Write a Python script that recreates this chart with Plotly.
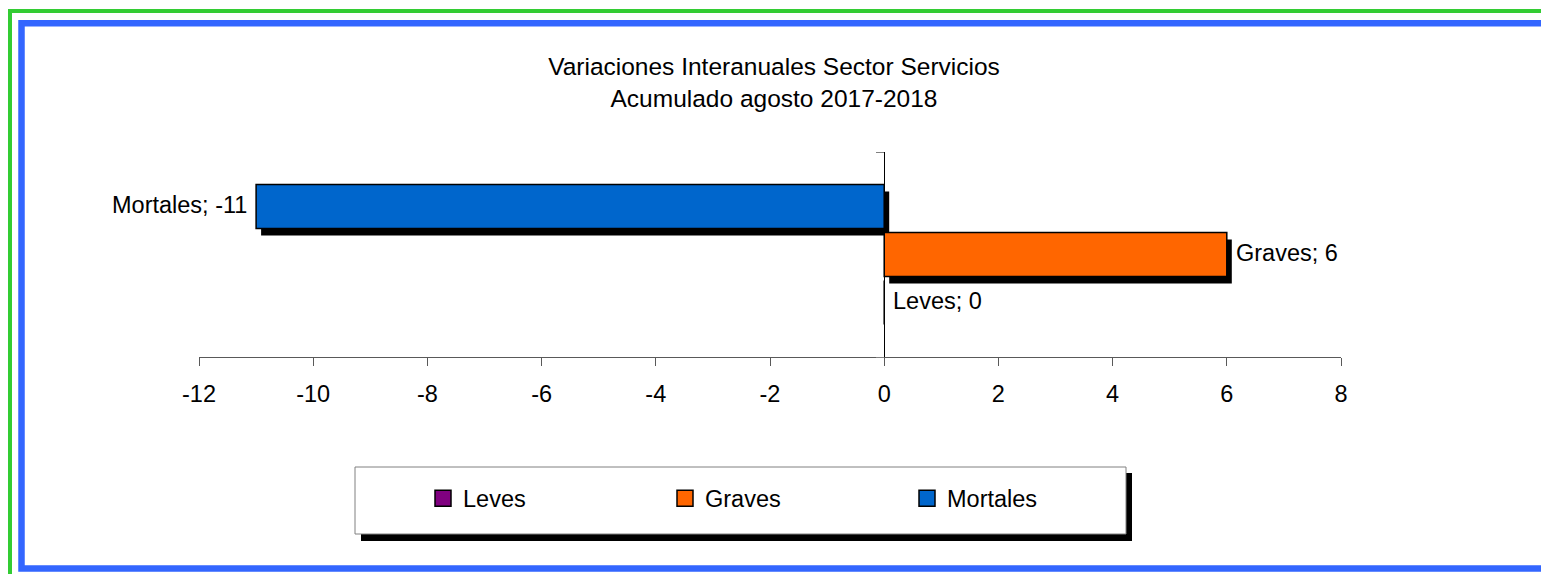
import plotly.graph_objects as go

# ---- data ----
series_names = ["Leves", "Graves", "Mortales"]
series_values = [0, 6, -11]
series_colors = ["#800080", "#FF6600", "#0066CC"]
x_ticks = [-12, -10, -8, -6, -4, -2, 0, 2, 4, 6, 8]
title_lines = ["Variaciones Interanuales Sector Servicios", "Acumulado agosto 2017-2018"]

# ---- layout geometry (pixels, in screenshot coordinates; page body has 8px margin) ----
OFF = 8
W, H = 1549, 574
PLOT_L, PLOT_R, PLOT_T, PLOT_B = 199, 1341, 152, 357
L = PLOT_L - OFF
R = W - (PLOT_R - OFF)
T = PLOT_T - OFF
B = H - (PLOT_B - OFF)
PW, PH = W - L - R, H - T - B
XMIN, XMAX = -12, 8
YMIN, YMAX = -0.5, 0.5

def px_x(px):
    return (px - OFF - L) / PW

def px_y(py):
    return (H - B - (py - OFF)) / PH

FONT = "Liberation Sans, Arial, sans-serif"
FS = 23.5

spacing = 48 / PH          # y-units between bars
bar_w = 44 / PH            # bar thickness in y-units
dx = 5 * (XMAX - XMIN) / PW  # shadow shift in x-units
dy = 7 / PH                  # shadow shift in y-units

fig = go.Figure()

# shadows
for i, (n, v) in enumerate(zip(series_names, series_values)):
    c = (i - 1) * spacing
    fig.add_trace(go.Bar(
        x=[v], y=[0], base=[dx], orientation="h",
        width=bar_w, offset=c - bar_w / 2 - dy,
        marker=dict(color="black", line=dict(width=0)),
        showlegend=False, hoverinfo="skip"))

# bars
for i, (n, v, col) in enumerate(zip(series_names, series_values, series_colors)):
    c = (i - 1) * spacing
    fig.add_trace(go.Bar(
        x=[v], y=[0], orientation="h", name=n,
        width=bar_w, offset=c - bar_w / 2,
        marker=dict(color=col, line=dict(color="black", width=1.5)),
        showlegend=False))
    fig.add_annotation(
        x=v, y=c, xref="x", yref="y",
        text=f"{n}; {v}", showarrow=False,
        xanchor="right" if v < 0 else "left",
        xshift=-7 if v < 0 else 7,
        yshift=2,
        font=dict(family=FONT, size=FS, color="black"))

# legend entries
for n, col in zip(series_names, series_colors):
    fig.add_trace(go.Scatter(
        x=[None], y=[None], mode="markers", name=n,
        marker=dict(symbol="square", size=16, color=col,
                    line=dict(color="black", width=1.5))))

shapes = []
# outer frames
shapes.append(dict(type="rect", xref="paper", yref="paper",
                   x0=px_x(10), x1=px_x(1620), y0=px_y(11), y1=px_y(640),
                   line=dict(color="#33CC33", width=4), fillcolor="rgba(0,0,0,0)"))
shapes.append(dict(type="rect", xref="paper", yref="paper",
                   x0=px_x(21.5), x1=px_x(1620), y0=px_y(23.3), y1=px_y(568.5),
                   line=dict(color="#3366FF", width=6.5), fillcolor="rgba(0,0,0,0)"))
# legend box shadow and box
shapes.append(dict(type="rect", xref="paper", yref="paper",
                   x0=px_x(361), x1=px_x(1132), y0=px_y(473), y1=px_y(541),
                   line=dict(width=0), fillcolor="black", layer="below"))
shapes.append(dict(type="rect", xref="paper", yref="paper",
                   x0=px_x(355), x1=px_x(1126), y0=px_y(467), y1=px_y(534),
                   line=dict(color="#808080", width=1), fillcolor="white", layer="below"))

fig.update_layout(
    width=W, height=H,
    margin=dict(l=L, r=R, t=T, b=B, pad=0),
    paper_bgcolor="white", plot_bgcolor="rgba(0,0,0,0)",
    barmode="overlay",
    font=dict(family=FONT, size=FS, color="black"),
    title=dict(text="<br>".join(title_lines), x=px_x(774), xref="paper",
               xanchor="center", y=1 - (75 - OFF) / H, yref="container", yanchor="top",
               font=dict(family=FONT, size=24.5, color="black")),
    xaxis=dict(range=[XMIN, XMAX], tickvals=x_ticks, ticktext=[str(t) for t in x_ticks],
               showgrid=False, zeroline=False, showline=True, linecolor="#595959",
               linewidth=1, ticks="outside", ticklen=8, tickcolor="#595959",
               tickfont=dict(family=FONT, size=FS, color="black"),
               ticklabelstandoff=8, fixedrange=True),
    yaxis=dict(range=[YMIN, YMAX], anchor="free",
               position=(0 - XMIN) / (XMAX - XMIN),
               showgrid=False, zeroline=False, showline=True, linecolor="black",
               linewidth=1, ticks="outside", ticklen=8, tickcolor="#808080",
               tickvals=[YMIN, YMAX], showticklabels=False, fixedrange=True),
    legend=dict(orientation="h", x=px_x(423), xanchor="left",
                y=px_y(498.5), yanchor="middle",
                bgcolor="rgba(0,0,0,0)", borderwidth=0,
                itemsizing="trace", entrywidth=197, entrywidthmode="pixels",
                font=dict(family=FONT, size=FS, color="black"),
                traceorder="normal"),
    shapes=shapes,
    showlegend=True,
)

fig.write_html("out.html")
